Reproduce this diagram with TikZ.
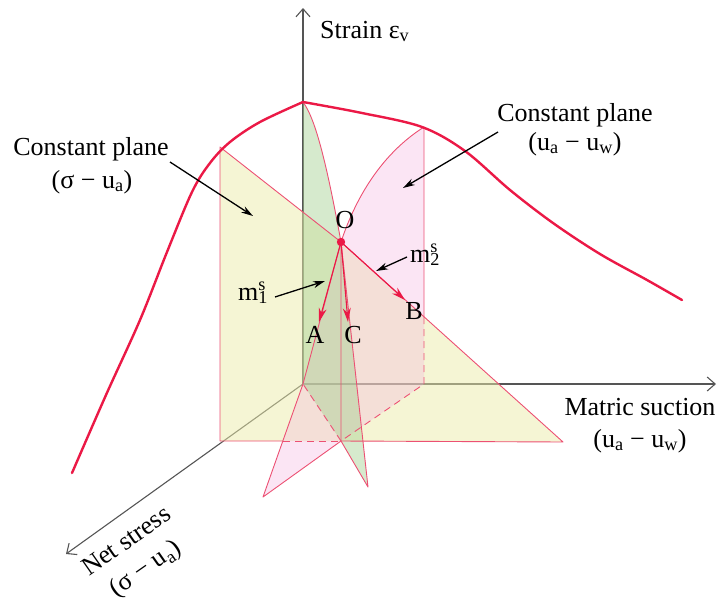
\documentclass[tikz,border=0pt]{standalone}
\usepackage{fontspec}
\setmainfont{Liberation Serif}
\usetikzlibrary{arrows.meta}
\definecolor{curvered}{RGB}{235,25,70}
\definecolor{edgered}{RGB}{236,80,115}
\definecolor{axisgray}{RGB}{85,85,85}
\definecolor{yellowfill}{RGB}{236,236,170}
\definecolor{pinkfill}{RGB}{242,175,222}
\definecolor{greenfill}{RGB}{165,208,145}
\begin{document}
\begin{tikzpicture}[x=1pt,y=-1pt,
  axisline/.style={draw=axisgray,line width=1.1pt,-{Straight Barb[length=8pt,width=14pt]}},
  planeedge/.style={draw=edgered,line width=0.9pt,line join=round},
  hidden/.style={draw=edgered,line width=0.9pt,dash pattern=on 7pt off 5pt},
  surf/.style={draw=curvered,line width=2.4pt,line join=round,line cap=round},
  redarrow/.style={draw=curvered,line width=1.1pt,-{Stealth[length=14pt,width=8pt]}},
  callout/.style={draw=black,line width=1.3pt,-{Stealth[length=12pt,width=7pt]}},
  lbl/.style={font=\fontsize{26}{33}\selectfont,inner sep=0pt}]
\useasboundingbox (0,0) rectangle (718,603);

% key points
\coordinate (org) at (303,384);
\coordinate (ztop) at (303,8);
\coordinate (xend) at (716,384);
\coordinate (nend) at (66,554);
\coordinate (Y0) at (220,441);
\coordinate (Ytop) at (220,147);
\coordinate (Yend) at (563,442);
\coordinate (O) at (341,242);
\coordinate (P0) at (424,384);
\coordinate (Ptop) at (424,127);
\coordinate (Pm) at (424,317);
\coordinate (Pbot) at (263,497);
\coordinate (D1) at (341,441);
\coordinate (Dh) at (283,441);
\coordinate (peak) at (303,102);
\coordinate (Gbot) at (368,487);
\coordinate (Atip) at (319,322);
\coordinate (Ctip) at (348,322);
\coordinate (Btip) at (405,300);

% axes
\draw[axisline] (org) -- (ztop);
\draw[axisline] (org) -- (xend);
\draw[axisline] (org) -- (nend);

% planes (fills)
\fill[yellowfill,fill opacity=0.5] (Y0) -- (Ytop) -- (O) -- (Yend) -- cycle;
\fill[pinkfill,fill opacity=0.32] (P0) -- (Ptop) .. controls (372,160) and (350,215) .. (O) -- (org) -- (Pbot) -- (D1) -- cycle;
\fill[greenfill,fill opacity=0.45] (org) -- (peak) .. controls (315,118) and (326,160) .. (O) -- (Gbot) -- (D1) -- cycle;

% plane edges
\draw[planeedge] (Dh) -- (Y0) -- (Ytop) -- (O) -- (Yend) -- (D1);
\draw[hidden] (Dh) -- (D1);
\draw[planeedge] (Pm) -- (Ptop) .. controls (372,160) and (350,215) .. (O) -- (org) -- (Pbot) -- (D1);
\draw[hidden] (Pm) -- (P0) -- (D1);
\draw[planeedge] (peak) .. controls (315,118) and (326,160) .. (O) -- (Gbot) -- (D1) -- (O);
\draw[hidden] (D1) -- (org);

% surface curve
\draw[surf] plot[smooth,tension=0.55] coordinates {(72,473) (106,395) (140,320) (167,252) (192,192) (210,163) (230,142) (260,122) (303,102)};
\draw[surf] plot[smooth,tension=0.55] coordinates {(303,102) (362,113) (422,127) (465,151) (510,190) (553,223) (600,254) (647,280) (682,300)};

% paths from O
\draw[redarrow] (O) -- (Atip);
\draw[redarrow] (O) -- (Ctip);
\draw[redarrow] (O) -- (Btip);
\fill[curvered] (O) circle (4.2pt);

% labels
\node[lbl,anchor=base west] (strain) at (320,38) {Strain ε\textsubscript{v}};
\node[lbl,anchor=base] (cpl1) at (91,155) {Constant plane};
\node[lbl,anchor=base] (cpl2) at (92,188) {(σ − u\textsubscript{a})};
\node[lbl,anchor=base] (cpr1) at (575,121) {Constant plane};
\node[lbl,anchor=base] (cpr2) at (575,150) {(u\textsubscript{a} − u\textsubscript{w})};
\node[lbl,anchor=base] (ms1) at (640,415) {Matric suction};
\node[lbl,anchor=base] (ms2) at (640,447) {(u\textsubscript{a} − u\textsubscript{w})};
\node[lbl,rotate=35,align=center] (ns) at (137,556) {Net stress\\(σ − u\textsubscript{a})};
\node[lbl,anchor=base] (Olbl) at (345,228) {O};
\node[lbl,anchor=base] (Albl) at (315,343) {A};
\node[lbl,anchor=base] (Clbl) at (353,343) {C};
\node[lbl,anchor=base] (Blbl) at (414,319) {B};
\node[lbl,anchor=base west] (m1) at (238,300) {m\rlap{\textsuperscript{s}}\textsubscript{1}};
\node[lbl,anchor=base west] (m2) at (410,262) {m\rlap{\textsuperscript{s}}\textsubscript{2}};

% callout arrows
\coordinate (cLs) at (170,162);
\coordinate (cLe) at (253,216);
\coordinate (cRs) at (498,132);
\coordinate (cRe) at (403,188);
\coordinate (m1s) at (275,297);
\coordinate (m1e) at (325,281);
\coordinate (m2s) at (407,257);
\coordinate (m2e) at (376,271);
\draw[callout] (cLs) -- (cLe);
\draw[callout] (cRs) -- (cRe);
\draw[callout] (m1s) -- (m1e);
\draw[callout] (m2s) -- (m2e);
\end{tikzpicture}
\end{document}
